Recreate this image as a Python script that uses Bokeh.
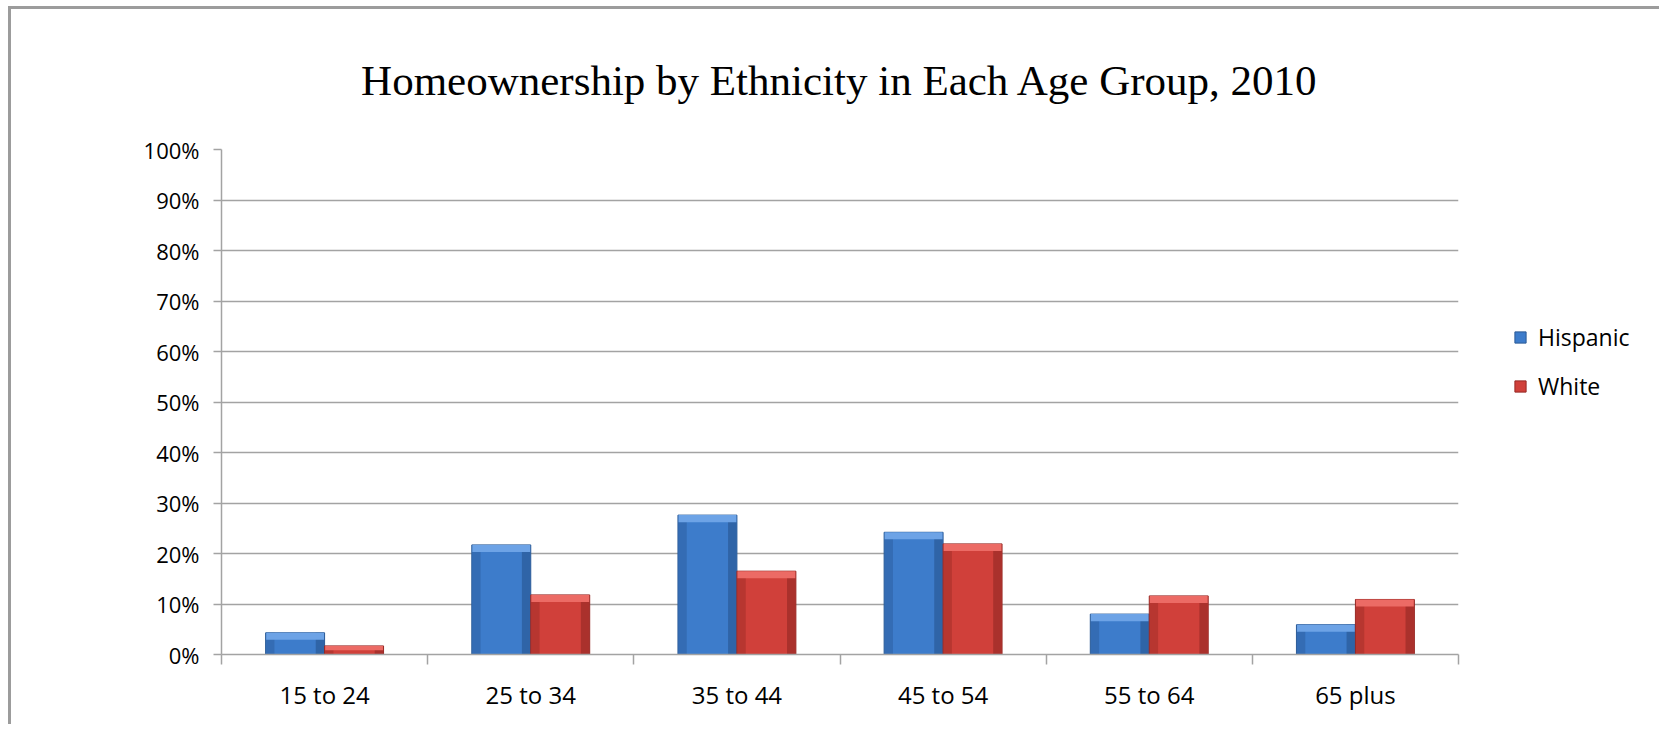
from bokeh.plotting import figure
from bokeh.models import FixedTicker, Legend, LegendItem, Range1d, ColumnDataSource
from bokeh.embed import file_html
from bokeh.resources import INLINE

# ---- data ----
categories = ["15 to 24", "25 to 34", "35 to 44", "45 to 54", "55 to 64", "65 plus"]
hispanic = [0.043, 0.217, 0.276, 0.242, 0.080, 0.059]
white = [0.017, 0.118, 0.165, 0.219, 0.116, 0.109]
series_names = ["Hispanic", "White"]
y_ticks = [0.0, 0.1, 0.2, 0.3, 0.4, 0.5, 0.6, 0.7, 0.8, 0.9, 1.0]
y_labels = ["0%", "10%", "20%", "30%", "40%", "50%", "60%", "70%", "80%", "90%", "100%"]
title_text = "Homeownership by Ethnicity in Each Age Group, 2010"

FONT = "Open Sans"
GRID = "#a3a3a3"

p = figure(
    frame_width=1237, frame_height=505,
    min_border_left=210, min_border_right=190, min_border_top=140, min_border_bottom=70,
    x_range=Range1d(0, len(categories)), y_range=Range1d(0, 1),
    output_backend="svg", toolbar_location=None, tools="",
    title=title_text,
)
p.margin = (6, 0, 0, 8)
p.styles = {"border-top": "3px solid #9c9c9c", "border-left": "3px solid #9c9c9c"}
p.outline_line_color = None
p.background_fill_color = "white"
p.border_fill_color = "white"

p.title.text_font = "Liberation Serif"
p.title.text_font_size = "43px"
p.title.text_font_style = "normal"
p.title.text_color = "black"
p.title.align = "center"
p.title.standoff = 91
p.title.offset = 24

# positions derived from the category list
centers = [i + 0.5 for i in range(len(categories))]
bw = 0.286
x_h = [c - bw / 2 for c in centers]
x_w = [c + bw / 2 for c in centers]

def bars(xs, vals, main, edge, light, dark):
    src = ColumnDataSource(dict(x=xs, top=vals,
                                band=[v - 0.014 if v > 0.02 else v * 0.5 for v in vals]))
    r = p.vbar(x="x", top="top", bottom=0, width=bw, source=src,
               fill_color=main, line_color=edge, line_width=1)
    p.vbar(x=[x + bw * 0.42 for x in xs], top=vals, bottom=0, width=bw * 0.14,
           fill_color=dark, fill_alpha=0.55, line_color=None)
    p.vbar(x=[x - bw * 0.42 for x in xs], top=vals, bottom=0, width=bw * 0.14,
           fill_color=dark, fill_alpha=0.35, line_color=None)
    p.vbar(x="x", top="top", bottom="band", width=bw * 0.98, source=src,
           fill_color=light, line_color=None)
    return r

r_h = bars(x_h, hispanic, "#3d7ccb", "#2a5a96", "#6da3e6", "#24508a")
r_w = bars(x_w, white, "#d0403a", "#962824", "#ec6b65", "#8a2420")

# axes
xa = p.xaxis[0]
xa.ticker = FixedTicker(ticks=centers, minor_ticks=list(range(len(categories) + 1)))
xa.major_label_overrides = {c: lab for c, lab in zip(centers, categories)}
xa.major_tick_line_color = None
xa.major_tick_out = 0
xa.major_tick_in = 0
xa.minor_tick_line_color = GRID
xa.minor_tick_line_width = 1.5
xa.minor_tick_out = 10
xa.minor_tick_in = 0
xa.axis_line_color = GRID
xa.axis_line_width = 1.5
xa.major_label_text_font = FONT
xa.major_label_text_font_size = "24px"
xa.major_label_text_color = "black"
xa.major_label_standoff = 13

ya = p.yaxis[0]
ya.ticker = FixedTicker(ticks=y_ticks, minor_ticks=[])
ya.major_label_overrides = {t: l for t, l in zip(y_ticks, y_labels)}
ya.major_tick_line_color = GRID
ya.major_tick_line_width = 1.5
ya.major_tick_out = 8
ya.major_tick_in = 0
ya.axis_line_color = GRID
ya.axis_line_width = 1.5
ya.major_label_text_font = FONT
ya.major_label_text_font_size = "22px"
ya.major_label_text_color = "black"
ya.major_label_standoff = 14

p.xgrid.grid_line_color = None
p.ygrid.grid_line_color = GRID
p.ygrid.grid_line_width = 1.5
p.ygrid.ticker = FixedTicker(ticks=y_ticks)

legend = Legend(
    items=[LegendItem(label=series_names[0], renderers=[r_h]),
           LegendItem(label=series_names[1], renderers=[r_w])],
    location=(55, 252),
    glyph_width=14, glyph_height=14, label_height=24, spacing=17,
    label_standoff=11, padding=0, margin=0,
    border_line_color=None, background_fill_alpha=0,
    label_text_font=FONT, label_text_font_size="23px", label_text_color="black",
)
p.add_layout(legend, "right")

open("out.html", "w").write(file_html(p, INLINE))
